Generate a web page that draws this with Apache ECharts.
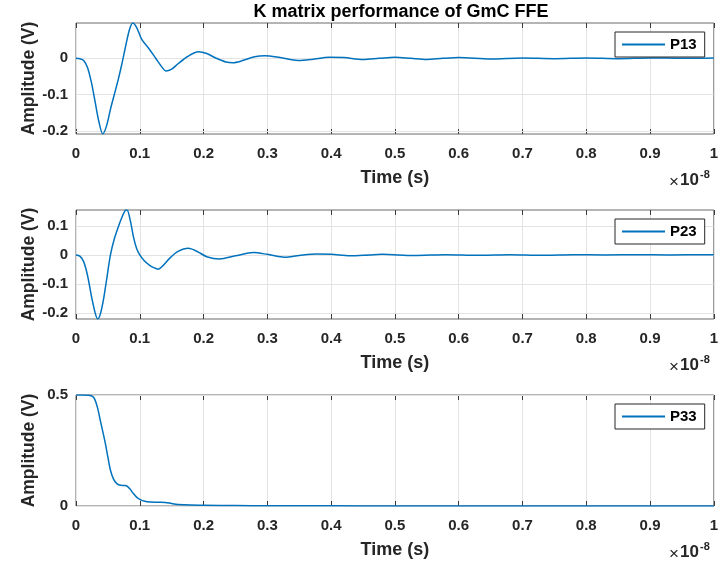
<!DOCTYPE html>
<html>
<head>
<meta charset="utf-8">
<script src="https://cdn.jsdelivr.net/npm/echarts@6/dist/echarts.min.js"></script>
<style>
html,body{margin:0;padding:0;background:#fff;}
#chart{width:721px;height:567px;}
</style>
</head>
<body>
<div id="chart"></div>
<script>
// Time in units of 1e-8 s
const titleText = 'K matrix performance of GmC FFE';
const seriesNames = ['P13', 'P23', 'P33'];
const xTicks = [0, 0.1, 0.2, 0.3, 0.4, 0.5, 0.6, 0.7, 0.8, 0.9, 1];

const p13Time = [0,0.006,0.012,0.018,0.024,0.030,0.036,0.042,0.048,0.054,0.060,0.066,0.072,0.078,0.084,0.089,0.095,0.103,0.115,0.125,0.135,0.141,0.150,0.160,0.175,0.192,0.205,0.220,0.235,0.246,0.260,0.280,0.296,0.320,0.348,0.370,0.397,0.420,0.450,0.475,0.500,0.525,0.550,0.575,0.600,0.650,0.700,0.750,0.800,0.850,0.900,0.950,1.000];
const p13Vals = [0,-0.001,-0.006,-0.025,-0.065,-0.120,-0.175,-0.208,-0.185,-0.140,-0.100,-0.060,-0.015,0.035,0.080,0.097,0.085,0.052,0.025,0.000,-0.025,-0.035,-0.030,-0.015,0.005,0.018,0.013,0.000,-0.010,-0.012,-0.007,0.004,0.007,0.002,-0.006,-0.003,0.003,0.002,-0.003,0.000,0.003,0.000,-0.003,0.000,0.002,-0.002,0.001,-0.001,0.001,-0.001,0.001,0.000,0.001];

const p23Time = [0,0.006,0.012,0.018,0.024,0.030,0.034,0.038,0.043,0.048,0.054,0.060,0.066,0.072,0.077,0.080,0.085,0.090,0.095,0.100,0.107,0.115,0.122,0.129,0.135,0.147,0.160,0.176,0.190,0.205,0.225,0.250,0.278,0.300,0.327,0.350,0.377,0.400,0.430,0.460,0.480,0.530,0.580,0.630,0.680,0.730,0.780,0.830,0.880,0.930,1.000];
const p23Vals = [0,-0.004,-0.023,-0.070,-0.140,-0.200,-0.221,-0.205,-0.155,-0.085,0.000,0.055,0.095,0.130,0.153,0.155,0.120,0.063,0.022,0.000,-0.020,-0.035,-0.044,-0.049,-0.040,-0.011,0.012,0.023,0.012,-0.006,-0.014,-0.003,0.008,0.002,-0.008,-0.002,0.003,0.002,-0.003,0.000,0.002,-0.002,0.001,-0.001,0.001,-0.001,0.001,0.000,0.001,0.000,0.001];

const p33Time = [0,0.010,0.020,0.026,0.030,0.034,0.038,0.042,0.046,0.050,0.054,0.059,0.064,0.070,0.076,0.080,0.085,0.090,0.095,0.100,0.108,0.116,0.130,0.140,0.150,0.160,0.180,0.200,0.250,0.300,0.400,0.500,0.700,1.000];
const p33Vals = [0.5,0.500,0.499,0.494,0.477,0.440,0.387,0.335,0.282,0.220,0.161,0.120,0.101,0.093,0.092,0.090,0.075,0.056,0.040,0.030,0.021,0.018,0.017,0.016,0.011,0.007,0.004,0.003,0.002,0.001,0.001,0.000,0.000,0.000];

const yRanges = [[-0.208, 0.097], [-0.221, 0.155], [0, 0.5]];
const yTickValues = [[-0.2, -0.1, 0], [-0.2, -0.1, 0, 0.1], [0, 0.5]];
const yTickLabels = [['-0.2', '-0.1', '0'], ['-0.2', '-0.1', '0', '0.1'], ['0', '0.5']];

const times = [p13Time, p23Time, p33Time];
const vals = [p13Vals, p23Vals, p33Vals];

const gridTops = [23, 210, 395];
const gridHeights = [111, 109, 111];
const LEFT = 76, WIDTH = 640;
const FONT = "'Liberation Sans', Arial, sans-serif";
const TXT = '#262626';
const LINE = '#0072BD';
const TICK = '#3a3a3a';
const GRIDC = '#e3e3e3';

const chart = echarts.init(document.getElementById('chart'), null, {renderer: 'canvas'});

const grid = [], xAxis = [], yAxis = [], series = [], legend = [], graphic = [];

function xFmt(v) {
  if (Math.abs(v) < 1e-9) return '0';
  if (Math.abs(v - 1) < 1e-9) return '1';
  return v.toFixed(1);
}

for (let i = 0; i < 3; i++) {
  grid.push({left: LEFT, width: WIDTH, top: gridTops[i], height: gridHeights[i],
    show: true, borderColor: '#6a6a6a', borderWidth: 1, backgroundColor: '#fff'});
  xAxis.push({
    type: 'value', gridIndex: i, min: 0, max: 1, interval: 0.1, position: 'bottom',
    name: 'Time (s)', nameLocation: 'middle', nameGap: 35, nameMoveOverlap: false,
    nameTextStyle: {fontFamily: FONT, fontWeight: 'bold', fontSize: 18, color: TXT},
    axisLine: {show: false, onZero: false},
    axisTick: {show: true, inside: true, length: 5, lineStyle: {color: TICK}},
    axisLabel: {margin: 12, fontFamily: FONT, fontWeight: 'bold', fontSize: 15, color: TXT,
      formatter: xFmt},
    splitLine: {show: true, lineStyle: {color: GRIDC, width: 1}}
  });
  xAxis.push({
    type: 'value', gridIndex: i, min: 0, max: 1, interval: 0.1, position: 'top',
    axisLine: {show: false, onZero: false}, axisLabel: {show: false}, splitLine: {show: false},
    axisTick: {show: true, inside: true, length: 5, lineStyle: {color: TICK}}
  });
  const tv = yTickValues[i], tl = yTickLabels[i];
  yAxis.push({
    type: 'value', gridIndex: i, min: yRanges[i][0], max: yRanges[i][1], position: 'left',
    name: 'Amplitude (V)', nameLocation: 'middle', nameGap: 38, nameRotate: 90, nameMoveOverlap: false,
    nameTextStyle: {fontFamily: FONT, fontWeight: 'bold', fontSize: 17.5, color: TXT},
    axisLine: {show: false, onZero: false},
    axisTick: {show: true, inside: true, length: 5, customValues: tv, lineStyle: {color: TICK}},
    axisLabel: {margin: 8, fontFamily: FONT, fontWeight: 'bold', fontSize: 15, color: TXT,
      customValues: tv,
      formatter: v => { const k = tv.findIndex(t => Math.abs(t - v) < 1e-9); return k >= 0 ? tl[k] : ''; }},
    splitLine: {show: false}
  });
  yAxis.push({
    type: 'value', gridIndex: i, min: yRanges[i][0], max: yRanges[i][1], position: 'right',
    axisLine: {show: false, onZero: false}, axisLabel: {show: false}, splitLine: {show: false},
    axisTick: {show: true, inside: true, length: 5, customValues: tv, lineStyle: {color: TICK}}
  });
  // horizontal grid lines at the y tick values, drawn beneath the data line
  series.push({
    name: 'grid' + i, type: 'line', xAxisIndex: i * 2, yAxisIndex: i * 2, data: [],
    z: 1, symbol: 'none', silent: true,
    markLine: {
      silent: true, symbol: 'none', label: {show: false}, animation: false,
      lineStyle: {color: GRIDC, width: 1, type: 'solid'},
      data: tv.map(v => ({yAxis: v}))
    }
  });
  series.push({
    name: seriesNames[i], type: 'line', xAxisIndex: i * 2, yAxisIndex: i * 2,
    data: times[i].map((t, k) => [t, vals[i][k]]),
    smooth: 0.3, symbol: 'none', lineStyle: {color: LINE, width: 1.5}, itemStyle: {color: LINE},
    clip: true, z: 5
  });
  legend.push({
    data: [seriesNames[i]], left: 615, top: gridTops[i] + 9,
    orient: 'vertical', icon: 'rect', itemWidth: 43, itemHeight: 2, itemGap: 0,
    padding: [5, 8, 5, 7], borderColor: '#262626', borderWidth: 1, backgroundColor: '#fff',
    textStyle: {fontFamily: FONT, fontWeight: 'bold', fontSize: 15, color: '#000'},
    selectedMode: false, z: 10
  });
  const base = gridTops[i] + gridHeights[i];
  graphic.push({type: 'text', left: 669, top: base + 40,
    style: {text: '×', font: '17px ' + FONT, fill: TXT}});
  graphic.push({type: 'text', left: 680, top: base + 38,
    style: {text: '10', font: 'bold 17px ' + FONT, fill: TXT}});
  graphic.push({type: 'text', left: 700, top: base + 35,
    style: {text: '-8', font: 'bold 11px ' + FONT, fill: TXT}});
}

chart.setOption({
  animation: false,
  backgroundColor: '#fff',
  title: {text: titleText, left: 396, textAlign: 'center', top: -2,
    textStyle: {fontFamily: FONT, fontWeight: 'bold', fontSize: 18, color: '#000'}},
  grid, xAxis, yAxis, series, legend, graphic
});
</script>
</body>
</html>
